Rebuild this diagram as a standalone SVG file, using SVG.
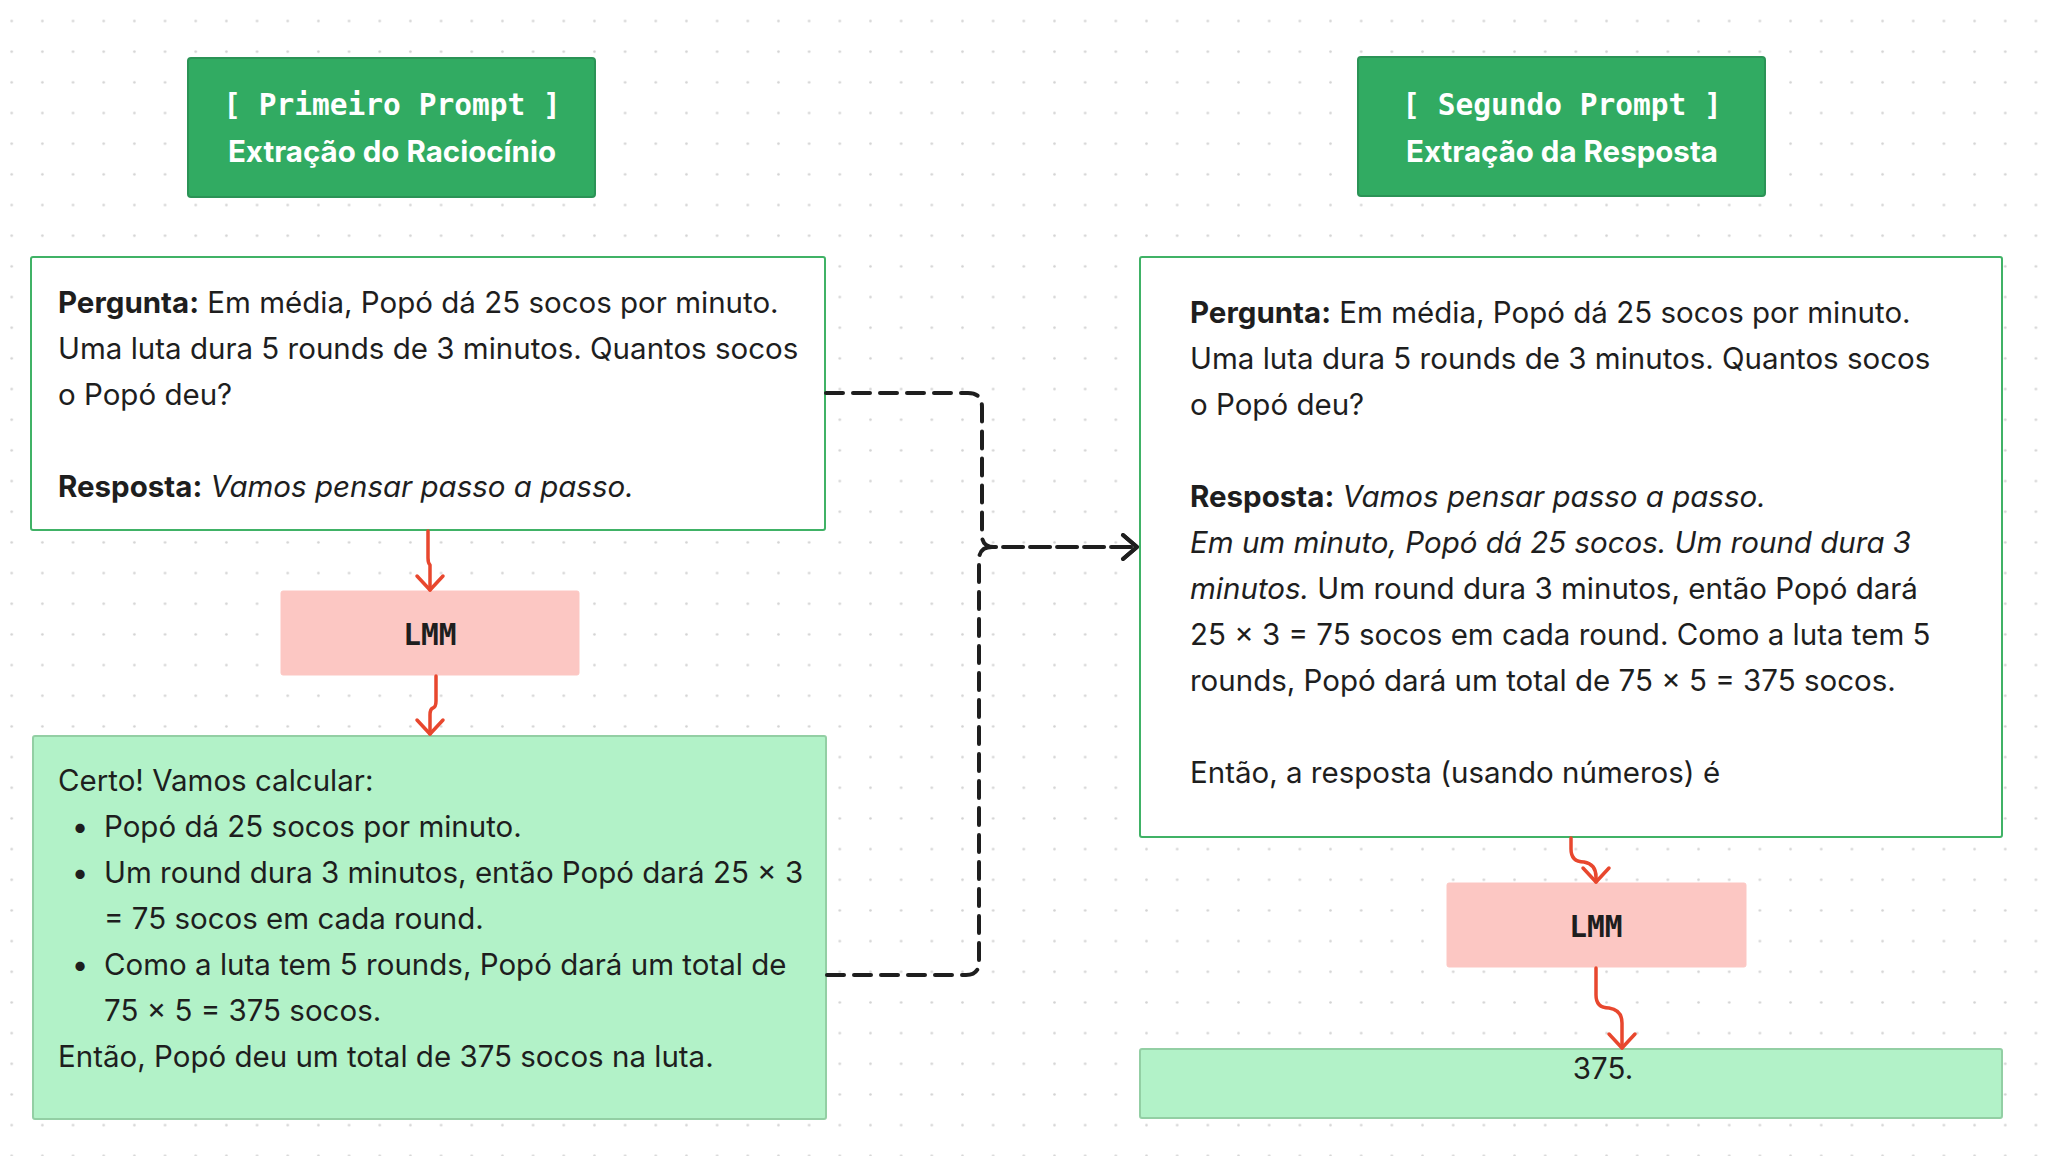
<svg xmlns="http://www.w3.org/2000/svg" width="2054" height="1156" viewBox="0 0 2054 1156">
<style>
.body{font-family:Inter,"Liberation Sans",sans-serif;font-size:29.5px;fill:#1e1e1e}
.b{font-weight:700}
.i{font-style:italic}
.mono{font-family:"DejaVu Sans Mono","Liberation Mono",monospace;font-weight:700;font-size:29.5px}
.hdr{fill:#31ab62;stroke:#2b9356;stroke-width:2}
.hdrt{fill:#ffffff;text-anchor:middle}
.hdrs{font-family:Inter,"Liberation Sans",sans-serif;font-weight:700;font-size:29.5px;fill:#ffffff;text-anchor:middle}
.qbox{fill:#ffffff;stroke:#40b266;stroke-width:2}
.abox{fill:#b2f2c8;stroke:#93cfa4;stroke-width:2}
.lmm{fill:#fcc7c3;stroke:#fcc7c3;stroke-width:1}
.lmmt{fill:#1e1e1e;text-anchor:middle}
.red{fill:none;stroke:#e8472e;stroke-width:3.5;stroke-linecap:round;stroke-linejoin:round}
.dash{fill:none;stroke:#1e1e1e;stroke-width:4;stroke-dasharray:17 10;stroke-linecap:round;stroke-linejoin:round}
</style>
<defs>
<pattern id="grid" x="-3.63" y="5.67" width="30.67" height="30.67" patternUnits="userSpaceOnUse">
<circle cx="15.33" cy="15.33" r="1.3" fill="#d2d2d2"/>
</pattern>
<marker id="ar" viewBox="-17 -16 20 32" refX="0" refY="0" markerWidth="20" markerHeight="32" markerUnits="userSpaceOnUse" orient="auto">
<path d="M-14,-13 L0,0 L-14,13" fill="none" stroke="#e8472e" stroke-width="3.5" stroke-linecap="round" stroke-linejoin="round"/>
</marker>
<marker id="ak" viewBox="-17 -16 20 32" refX="0" refY="0" markerWidth="20" markerHeight="32" markerUnits="userSpaceOnUse" orient="auto">
<path d="M-14,-12 L0,0 L-14,12" fill="none" stroke="#1e1e1e" stroke-width="4" stroke-linecap="round" stroke-linejoin="round"/>
</marker>
</defs>
<rect width="2054" height="1156" fill="#ffffff"/>
<rect width="2054" height="1156" fill="url(#grid)"/>

<g id="header1">
<rect class="hdr" x="188" y="58" width="407" height="139" rx="3"/>
<text class="mono hdrt" x="392" y="115">[ Primeiro Prompt ]</text>
<text class="hdrs" x="392" y="162">Extração do Raciocínio</text>
</g>

<g id="header2">
<rect class="hdr" x="1358" y="57" width="407" height="139" rx="3"/>
<text class="mono hdrt" x="1562" y="115">[ Segundo Prompt ]</text>
<text class="hdrs" x="1562" y="162">Extração da Resposta</text>
</g>

<g id="question1">
<rect class="qbox" x="31" y="257" width="794" height="273" rx="2"/>
<text class="body" x="58" y="313"><tspan class="b">Pergunta:</tspan> Em média, Popó dá 25 socos por minuto.</text>
<text class="body" x="58" y="359">Uma luta dura 5 rounds de 3 minutos. Quantos socos</text>
<text class="body" x="58" y="405">o Popó deu?</text>
<text class="body" x="58" y="497"><tspan class="b">Resposta:</tspan> <tspan class="i">Vamos pensar passo a passo.</tspan></text>
</g>

<g id="lmm1">
<rect class="lmm" x="281" y="591" width="298" height="84" rx="2"/>
<text class="mono lmmt" x="430" y="645">LMM</text>
</g>

<g id="answer1">
<rect class="abox" x="33" y="736" width="793" height="383" rx="2"/>
<text class="body" x="58" y="791">Certo! Vamos calcular:</text>
<text class="body" x="80" y="837" text-anchor="middle">•</text>
<text class="body" x="104" y="837">Popó dá 25 socos por minuto.</text>
<text class="body" x="80" y="883" text-anchor="middle">•</text>
<text class="body" x="104" y="883">Um round dura 3 minutos, então Popó dará 25 × 3</text>
<text class="body" x="104" y="929">= 75 socos em cada round.</text>
<text class="body" x="80" y="975" text-anchor="middle">•</text>
<text class="body" x="104" y="975">Como a luta tem 5 rounds, Popó dará um total de</text>
<text class="body" x="104" y="1021">75 × 5 = 375 socos.</text>
<text class="body" x="58" y="1067">Então, Popó deu um total de 375 socos na luta.</text>
</g>

<g id="question2">
<rect class="qbox" x="1140" y="257" width="862" height="580" rx="2"/>
<text class="body" x="1190" y="323"><tspan class="b">Pergunta:</tspan> Em média, Popó dá 25 socos por minuto.</text>
<text class="body" x="1190" y="369">Uma luta dura 5 rounds de 3 minutos. Quantos socos</text>
<text class="body" x="1190" y="415">o Popó deu?</text>
<text class="body" x="1190" y="507"><tspan class="b">Resposta:</tspan> <tspan class="i">Vamos pensar passo a passo.</tspan></text>
<text class="body i" x="1190" y="553">Em um minuto, Popó dá 25 socos. Um round dura 3</text>
<text class="body" x="1190" y="599"><tspan class="i">minutos.</tspan> Um round dura 3 minutos, então Popó dará</text>
<text class="body" x="1190" y="645">25 × 3 = 75 socos em cada round. Como a luta tem 5</text>
<text class="body" x="1190" y="691">rounds, Popó dará um total de 75 × 5 = 375 socos.</text>
<text class="body" x="1190" y="783">Então, a resposta (usando números) é</text>
</g>

<g id="lmm2">
<rect class="lmm" x="1447" y="883" width="299" height="84" rx="2"/>
<text class="mono lmmt" x="1596" y="937">LMM</text>
</g>

<g id="answer2">
<rect class="abox" x="1140" y="1049" width="862" height="69" rx="2"/>
<text class="body" x="1603" y="1079" text-anchor="middle">375.</text>
</g>

<g id="connectors">
<path class="red" d="M428 531 V558 Q428 563 430 565 V590" marker-end="url(#ar)"/>
<path class="red" d="M436 676 V701 Q436 707 433 708 Q430 709 430 715 V734" marker-end="url(#ar)"/>
<path class="red" d="M1571 838 V849 Q1571 862 1584 862 Q1596 864 1596 877 V882" marker-end="url(#ar)"/>
<path class="red" d="M1596 968 V995 Q1596 1008 1609 1008 Q1622 1010 1622 1023 V1048" marker-end="url(#ar)"/>
<path class="dash" d="M826 393 H968 Q982 393 982 407 V535 Q982 547 994 547 H1137" marker-end="url(#ak)"/>
<path class="dash" d="M827 975 H966 Q979 975 979 962 V560 Q979 547 992 547 H1137" marker-end="url(#ak)"/>
</g>
</svg>
